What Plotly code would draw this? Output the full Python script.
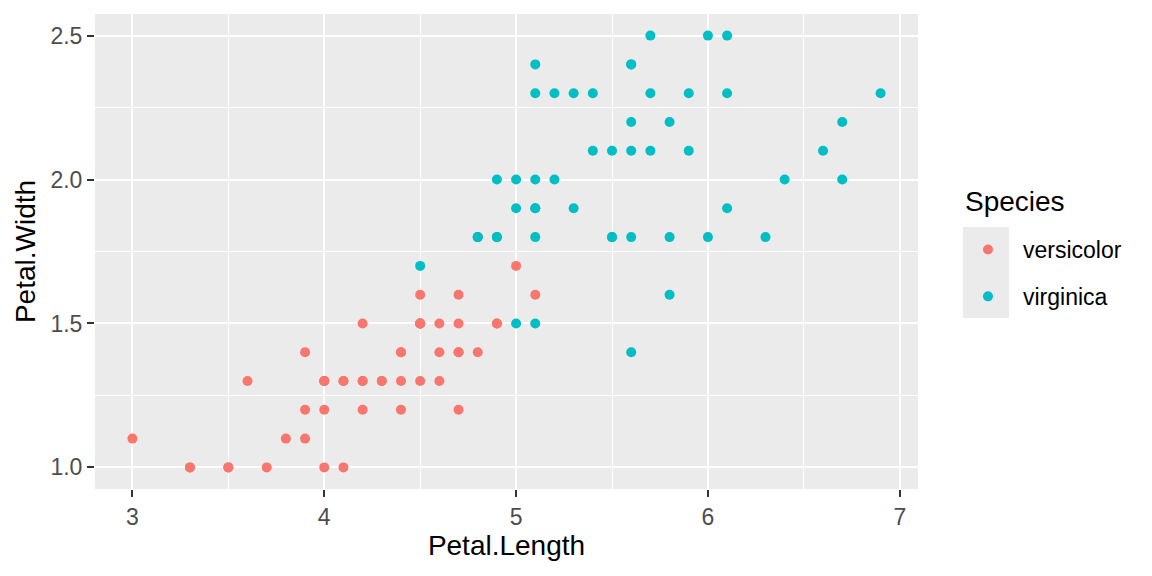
import plotly.graph_objects as go

versicolor_length = [4.7,4.5,4.9,4.0,4.6,4.5,4.7,3.3,4.6,3.9,3.5,4.2,4.0,4.7,3.6,4.4,4.5,4.1,4.5,3.9,
                     4.8,4.0,4.9,4.7,4.3,4.4,4.8,5.0,4.5,3.5,3.8,3.7,3.9,5.1,4.5,4.5,4.7,4.4,4.1,4.0,
                     4.4,4.6,4.0,3.3,4.2,4.2,4.2,4.3,3.0,4.1]
versicolor_width = [1.4,1.5,1.5,1.3,1.5,1.3,1.6,1.0,1.3,1.4,1.0,1.5,1.0,1.4,1.3,1.4,1.5,1.0,1.5,1.1,
                    1.8,1.3,1.5,1.2,1.3,1.4,1.4,1.7,1.5,1.0,1.1,1.0,1.2,1.6,1.5,1.6,1.5,1.3,1.3,1.3,
                    1.2,1.4,1.2,1.0,1.3,1.2,1.3,1.3,1.1,1.3]
virginica_length = [6.0,5.1,5.9,5.6,5.8,6.6,4.5,6.3,5.8,6.1,5.1,5.3,5.5,5.0,5.1,5.3,5.5,6.7,6.9,5.0,
                    5.7,4.9,6.7,4.9,5.7,6.0,4.8,4.9,5.6,5.8,6.1,6.4,5.6,5.1,5.6,6.1,5.6,5.5,4.8,5.4,
                    5.6,5.1,5.1,5.9,5.7,5.2,5.0,5.2,5.4,5.1]
virginica_width = [2.5,1.9,2.1,1.8,2.2,2.1,1.7,1.8,1.8,2.5,2.0,1.9,2.1,2.0,2.4,2.3,1.8,2.2,2.3,1.5,
                   2.3,2.0,2.0,1.8,2.1,1.8,1.8,1.8,2.1,1.6,1.9,2.0,2.2,1.5,1.4,2.3,2.4,1.8,1.8,2.1,
                   2.4,2.3,1.9,2.3,2.5,2.3,1.9,2.0,2.3,1.8]
species = ["versicolor", "virginica"]
x_ticks = [3, 4, 5, 6, 7]
y_ticks = [1.0, 1.5, 2.0, 2.5]
y_tick_labels = ["1.0", "1.5", "2.0", "2.5"]

colors = {"versicolor": "#F8766D", "virginica": "#00BFC4"}
data = {"versicolor": (versicolor_length, versicolor_width),
        "virginica": (virginica_length, virginica_width)}

FONT = "Liberation Sans, Arial, sans-serif"

fig = go.Figure()
for sp in species:
    xs, ys = data[sp]
    fig.add_trace(go.Scatter(x=xs, y=ys, mode="markers", name=sp, legendgroup=sp,
                             marker=dict(color=colors[sp], size=10, line=dict(width=0))))

axis_common = dict(showline=False, zeroline=False, gridcolor="white", gridwidth=2,
                   ticks="outside", ticklen=7, tickwidth=2, tickcolor="#333333",
                   tickfont=dict(family=FONT, size=23, color="#4D4D4D"))

fig.update_layout(
    width=1152, height=576,
    paper_bgcolor="white", plot_bgcolor="#EBEBEB",
    margin=dict(l=95, r=234, t=14, b=87),
    font=dict(family=FONT, color="black"),
    xaxis=dict(range=[2.805, 7.095], tickvals=x_ticks, ticktext=[str(v) for v in x_ticks],
               title=dict(text="Petal.Length", font=dict(size=28), standoff=6),
               minor=dict(tickvals=[3.5, 4.5, 5.5, 6.5], gridcolor="white", gridwidth=1, ticks=""),
               **axis_common),
    yaxis=dict(range=[0.925, 2.575], tickvals=y_ticks, ticktext=y_tick_labels,
               title=dict(text="Petal.Width", font=dict(size=28), standoff=6),
               minor=dict(tickvals=[1.25, 1.75, 2.25], gridcolor="white", gridwidth=1, ticks=""),
               **axis_common),
    legend=dict(font=dict(size=23), bgcolor="rgba(0,0,0,0)",
                x=1.0425, y=0.4547, xanchor="left", yanchor="middle",
                itemsizing="trace", itemwidth=60, tracegroupgap=14),
    shapes=[dict(type="rect", xref="paper", yref="paper", x0=1.0547, x1=1.1106,
                 y0=0.36, y1=0.5516, fillcolor="#EBEBEB", line=dict(width=0), layer="below")],
    annotations=[dict(text="Species", xref="paper", yref="paper", x=1.0547, y=0.6063,
                      xanchor="left", yanchor="middle", showarrow=False,
                      font=dict(family=FONT, size=28, color="black"))],
)

fig.write_html("out.html", config={"displayModeBar": False},
               post_script="document.body.style.margin='0';document.body.style.padding='0';")
